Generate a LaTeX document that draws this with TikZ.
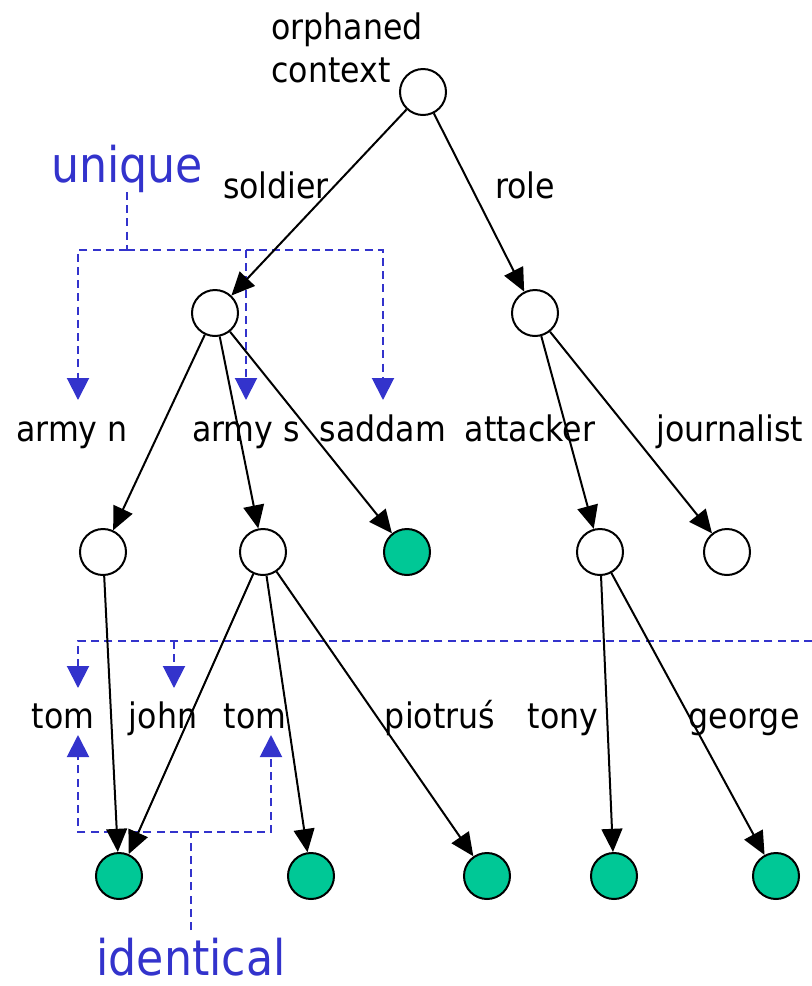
\documentclass[tikz,border=0pt]{standalone}
\usepackage{fontspec}
\setmainfont[FakeStretch=0.9]{DejaVu Sans}
\usetikzlibrary{arrows.meta,positioning}
\definecolor{ctBlue}{HTML}{3333CC}
\definecolor{ctGreen}{HTML}{00C896}
\tikzset{
  vert/.style={circle, draw, line width=0.5mm, minimum size=11.5mm, inner sep=0pt, fill=white},
  leaf/.style={vert, fill=ctGreen},
  edge/.style={-{Triangle[length=5.8mm, width=5.2mm]}, line width=0.5mm},
  lbl/.style={font=\fontsize{25}{30}\selectfont, inner sep=0pt, anchor=base},
  note/.style={font=\fontsize{35}{40}\selectfont, text=ctBlue, inner sep=0pt, anchor=base},
  link/.style={ctBlue, dash pattern=on 2mm off 1.3mm, line width=0.5mm},
  linkarrow/.style={link, -{Triangle[length=5.5mm, width=5.5mm]}}
}
\begin{document}
\begin{tikzpicture}[x=0.25mm, y=-0.25mm]
  \useasboundingbox (0,0) rectangle (812,986);
  % tree vertices
  \node[vert] (root) at (423,92) {};
  \node[vert] (vSoldier) at (215,313) {};
  \node[vert] (vRole) at (535,313) {};
  \node[vert] (vArmyN) at (103,552) {};
  \node[vert] (vArmyS) at (263,552) {};
  \node[leaf] (vSaddam) at (407,552) {};
  \node[vert] (vAttacker) at (600,552) {};
  \node[vert] (vJournalist) at (727,552) {};
  \node[leaf] (vTomA) at (119,876) {};
  \node[leaf] (vTomB) at (311,876) {};
  \node[leaf] (vPiotrus) at (487,876) {};
  \node[leaf] (vTony) at (614,876) {};
  \node[leaf] (vGeorge) at (776,876) {};
  % texts
  \node[lbl, align=left, anchor=base west] (tRoot) at (271,82) {orphaned\\context};
  \node[lbl] (tSoldier) at (276,198) {soldier};
  \node[lbl] (tRole) at (525,198) {role};
  \node[lbl] (tArmyN) at (72,441) {army n};
  \node[lbl] (tArmyS) at (246,441) {army s};
  \node[lbl] (tSaddam) at (383,441) {saddam};
  \node[lbl] (tAttacker) at (530,441) {attacker};
  \node[lbl] (tJournalist) at (730,441) {journalist};
  \node[lbl] (tTomA) at (63,728) {tom};
  \node[lbl] (tJohn) at (163,728) {john};
  \node[lbl] (tTomB) at (255,728) {tom};
  \node[lbl] (tPiotrus) at (440,728) {piotruś};
  \node[lbl] (tTony) at (563,728) {tony};
  \node[lbl] (tGeorge) at (744,728) {george};
  \node[note] (unique) at (127,182) {unique};
  \node[note] (identical) at (191,975) {identical};
  % unique
  \coordinate (uTop) at (127,192);
  \coordinate (uBar) at (127,250);
  \coordinate (uLeft) at (78,400);
  \coordinate (uMid) at (246,400);
  \coordinate (uRight) at (383,400);
  \draw[link] (uTop) -- (uBar);
  \draw[linkarrow] (uBar) -| (uLeft);
  \draw[linkarrow] (uBar) -| (uRight);
  \draw[linkarrow] (uMid |- uBar) -- (uMid);
  % ambiguous names
  \coordinate (aEnd) at (812,641);
  \coordinate (aTom) at (78,688);
  \coordinate (aJohn) at (174,688);
  \draw[linkarrow] (aEnd) -| (aTom);
  \draw[linkarrow] (aJohn |- aEnd) -- (aJohn);
  % identical
  \coordinate (iBot) at (191,930);
  \coordinate (iBar) at (191,832);
  \coordinate (iTomA) at (78,735);
  \coordinate (iTomB) at (271,735);
  \draw[link] (iBot) -- (iBar);
  \draw[linkarrow] (iBar) -| (iTomA);
  \draw[linkarrow] (iBar) -| (iTomB);
  % tree edges
  \draw[edge] (root) -- (vSoldier);
  \draw[edge] (root) -- (vRole);
  \draw[edge] (vSoldier) -- (vArmyN);
  \draw[edge] (vSoldier) -- (vArmyS);
  \draw[edge] (vSoldier) -- (vSaddam);
  \draw[edge] (vRole) -- (vAttacker);
  \draw[edge] (vRole) -- (vJournalist);
  \draw[edge] (vArmyN) -- (vTomA);
  \draw[edge] (vArmyS) -- (vTomA);
  \draw[edge] (vArmyS) -- (vTomB);
  \draw[edge] (vArmyS) -- (vPiotrus);
  \draw[edge] (vAttacker) -- (vTony);
  \draw[edge] (vAttacker) -- (vGeorge);
\end{tikzpicture}
\end{document}
